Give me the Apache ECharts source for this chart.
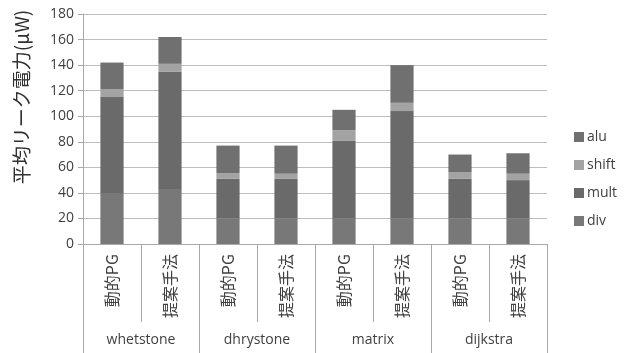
<!DOCTYPE html>
<html>
<head>
<meta charset="utf-8">
<script src="https://cdn.jsdelivr.net/npm/echarts@6/dist/echarts.min.js"></script>
<style>html,body{margin:0;padding:0;background:#fff}#c{width:631px;height:353px}</style>
</head>
<body>
<div id="c"></div>
<script>
var methods = ['動的PG','提案手法','動的PG','提案手法','動的PG','提案手法','動的PG','提案手法'];
var benchmarks = ['whetstone','dhrystone','matrix','dijkstra'];
var yTicks = [0,20,40,60,80,100,120,140,160,180];
var divData   = [40, 43, 20, 20, 20, 20, 20, 20];
var multData  = [75, 92, 31, 31, 61, 84, 31, 30];
var shiftData = [6, 6, 4.5, 4, 8, 6.5, 5, 5];
var aluData   = [21, 21, 21.5, 22, 16, 29.5, 14, 16];
var yName = '平均リーク電力(μW)';

var font = "'Open Sans','Noto Sans CJK JP',sans-serif";
var chart = echarts.init(document.getElementById('c'), null, {renderer:'canvas'});
function mk(name, data, color){
  return {name:name, type:'bar', stack:'s', data:data, barWidth:'40%',
    xAxisIndex:0, itemStyle:{color:color}, emphasis:{disabled:true}};
}
chart.setOption({
  animation:false,
  grid:{left:83, right:84, top:14, bottom:109},
  legend:{
    orient:'vertical', left:569, top:125, itemGap:14,
    itemWidth:10, itemHeight:10, icon:'rect',
    data:['alu','shift','mult','div'],
    textStyle:{fontFamily:font, fontSize:14, color:'#404040', padding:[0,0,0,-2]}
  },
  graphic:[{type:'text', x:22, y:97, rotation:Math.PI/2,
    style:{text:yName, fontFamily:"'Noto Sans CJK JP',sans-serif", fontSize:19, fill:'#303030',
      align:'center', verticalAlign:'middle'}}],
  xAxis:[{
    type:'category', data:methods, position:'bottom',
    axisLine:{show:true, lineStyle:{color:'#a8a8a8'}},
    axisTick:{show:true, length:78, alignWithLabel:false, lineStyle:{color:'#a8a8a8'}},
    axisLabel:{rotate:90, margin:10, fontFamily:"'Noto Sans CJK JP',sans-serif", fontSize:16, color:'#404040'},
    splitLine:{show:false}
  },{
    type:'category', data:benchmarks, position:'bottom',
    axisLine:{show:false},
    axisTick:{show:true, length:110, lineStyle:{color:'#a8a8a8'}},
    axisLabel:{margin:89, fontFamily:font, fontSize:14, color:'#404040'},
    splitLine:{show:false}
  }],
  yAxis:{
    type:'value', min:0, max:180, interval:20,
    axisLine:{show:true, lineStyle:{color:'#a8a8a8'}},
    axisTick:{show:true, length:5, lineStyle:{color:'#a8a8a8'}},
    axisLabel:{margin:9, fontFamily:font, fontSize:14, color:'#404040',
      formatter:function(v){return yTicks.indexOf(v)>=0? String(v):'';}},
    splitLine:{show:true, lineStyle:{color:'#bdbdbd'}}
  },
  series:[
    mk('div', divData, '#787878'),
    mk('mult', multData, '#6a6a6a'),
    mk('shift', shiftData, '#a3a3a3'),
    mk('alu', aluData, '#707070')
  ]
});
</script>
</body>
</html>
